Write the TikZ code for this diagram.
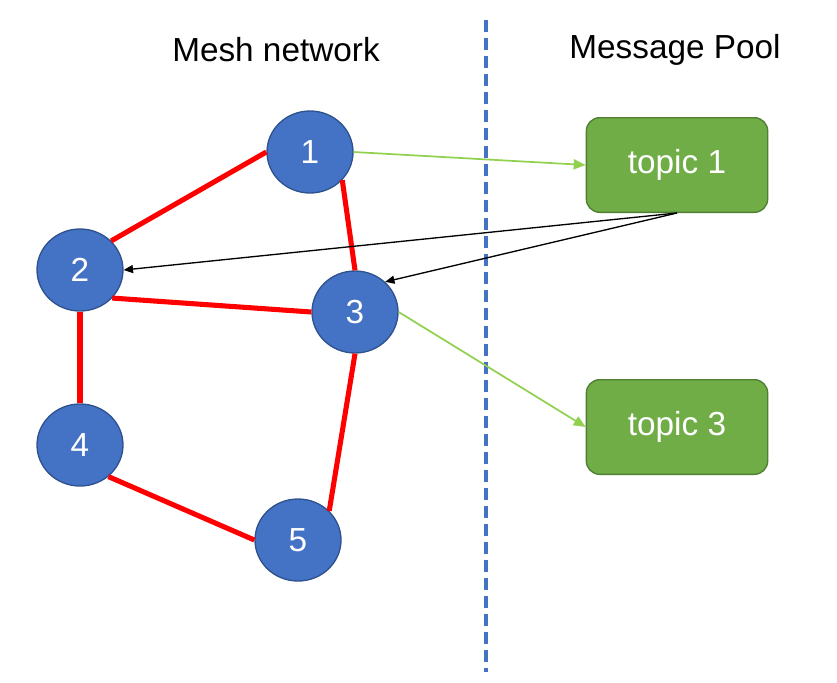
\documentclass[tikz,border=0pt]{standalone}
\usepackage{fontspec}
\setmainfont{Liberation Sans}
\usetikzlibrary{arrows.meta,shapes.geometric}
\definecolor{nodeblue}{HTML}{4472C4}
\definecolor{nodeline}{HTML}{2F528F}
\definecolor{poolgreen}{HTML}{70AD47}
\definecolor{poolline}{HTML}{507E32}
\definecolor{pubgreen}{HTML}{92D050}

\begin{document}
\begin{tikzpicture}[
    x=0.75pt, y=-0.75pt,
    every node/.style={font=\fontsize{25}{30}\selectfont},
    peer/.style={ellipse, draw=nodeline, line width=1pt, fill=nodeblue, text=white,
      minimum width=64.5pt, minimum height=61.5pt, inner sep=0pt},
    topicbox/.style={rectangle, rounded corners=10pt, draw=poolline, line width=1pt,
      fill=poolgreen, text=white, minimum width=136pt, minimum height=71pt},
    link/.style={line width=3.8pt, red},
    publish/.style={-{Triangle[length=9pt,width=7.5pt]}, line width=1.3pt, pubgreen},
    deliver/.style={-{Triangle[length=7pt,width=6pt]}, line width=1pt, black}
  ]
  \useasboundingbox (0,0) rectangle (837,682);
  % separator
  \draw[nodeblue, line width=3pt, dash pattern=on 9pt off 4.5pt] (486,20) -- (486,672);
  \node (meshtitle) at (276,50) {Mesh network};
  \node (pooltitle) at (675,50) {Message Pool};
  % mesh
  \node[peer] (n1) at (310,152) {1};
  \node[peer] (n2) at (80,270) {2};
  \node[peer] (n3) at (355,312) {3};
  \node[peer] (n4) at (80,445) {4};
  \node[peer] (n5) at (298,540) {5};
  \draw[link] (n2.43) -- (n1.west);
  \draw[link] (n1.-41) -- (n3.north);
  \draw[link] (n2.-41) -- (n3.west);
  \draw[link] (n2.south) -- (n4.north);
  \draw[link] (n3.south) -- (n5.43);
  \draw[link] (n4.-48) -- (n5.west);
  % pool
  \node[topicbox] (t1) at (677,165) {topic 1};
  \node[topicbox] (t3) at (677,427) {topic 3};
  \draw[publish] (n1.east) -- (t1.west);
  \draw[publish] (n3.east) -- (t3.west);
  \draw[deliver] (t1.south) -- (n2.east);
  \draw[deliver] (t1.south) -- (n3.45);
\end{tikzpicture}
\end{document}
